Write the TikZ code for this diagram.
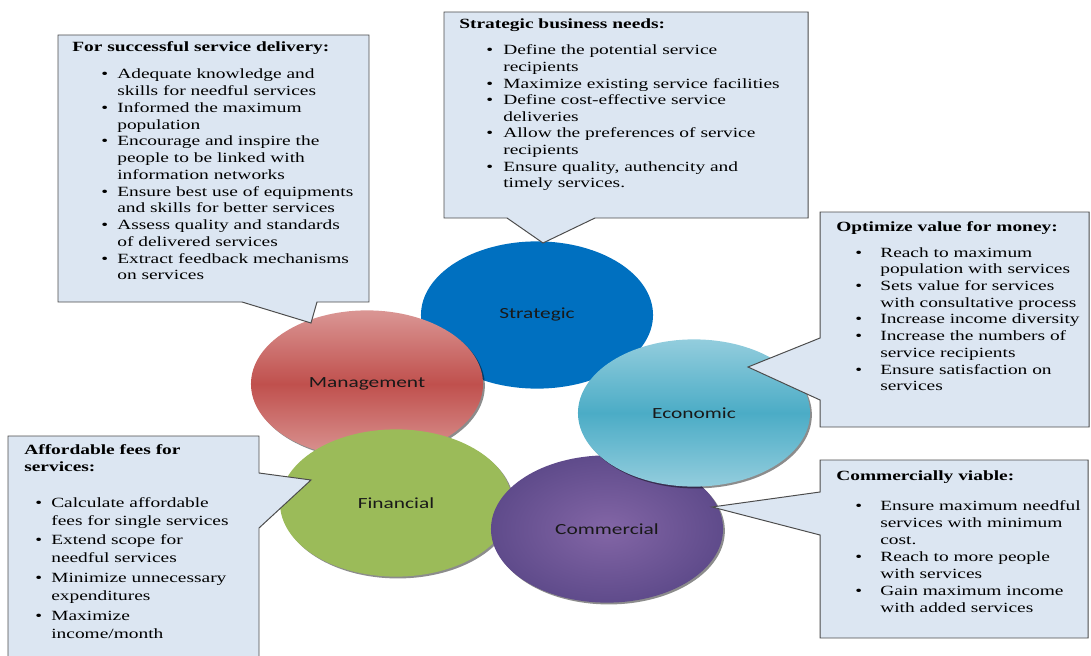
\documentclass[tikz,border=0pt]{standalone}
\usepackage{fontspec}
\setmainfont{Liberation Serif}[FakeStretch=1.38]
\newfontfamily\lblfont{Carlito}[FakeStretch=1.38]
\usepackage{xcolor}
\usetikzlibrary{shapes.geometric,shadows}
\definecolor{sblue}{HTML}{0070C0}
\definecolor{sred}{HTML}{C0504D}
\definecolor{sredlt}{HTML}{DA9694}
\definecolor{steal}{HTML}{4BACC6}
\definecolor{steallt}{HTML}{93CDDD}
\definecolor{sgreen}{HTML}{9BBB59}
\definecolor{spurple}{HTML}{5F4B8B}
\definecolor{spurplelt}{HTML}{8366A6}
\definecolor{sfill}{HTML}{DCE6F2}
\newcommand\bul{\textbullet}
\newcommand\blist[2]{\begin{tabular}[t]{@{}p{#1}@{}l@{}}#2\end{tabular}}
\tikzset{
  sring/.style={ellipse, minimum width=5.8cm, minimum height=3.68cm, inner sep=0pt,
                font=\lblfont\fontsize{11}{13}\selectfont, text=black!90},
  sshadow/.style={drop shadow={shadow xshift=1.3pt, shadow yshift=-1.3pt,
                  fill=black, opacity=0.45}},
  scall/.style={fill=sfill, draw=black!70, line width=0.7pt, line join=miter},
  shead/.style={anchor=base west, inner sep=0pt, font=\bfseries\fontsize{10}{12.1}\selectfont},
  slist/.style={anchor=base west, inner sep=0pt},
}

\begin{document}
\begin{tikzpicture}[x=0.025cm, y=-0.025cm]
  \useasboundingbox (0,0) rectangle (1091,656);
  \clip (0,0) rectangle (1091,656);

  % circles, back to front
  \node[sring, fill=sblue] (strat) at (537,315) {Strategic};
  \node[sring, sshadow, top color=sredlt, bottom color=sredlt, middle color=sred] (mgmt) at (367,384) {Management};
  \node[sring, sshadow, fill=sgreen] (fin) at (396,503) {Financial};
  \node[sring, sshadow, inner color=spurplelt, outer color=spurple] (comm) at (607,529) {Commercial};
  \node[sring, sshadow, top color=steallt, bottom color=steallt, middle color=steal] (econ) at (694,413) {Economic};

  % callouts
  \draw[scall] (58,35) -- (369,35) -- (369,302) -- (317,302) -- (311,323) -- (242,302) -- (58,302) -- cycle;
  \draw[scall] (444,12) -- (808,12) -- (808,218) -- (595,218) -- (543,243) -- (507,218) -- (444,218) -- cycle;
  \draw[scall] (820,212) -- (1089,212) -- (1089,427) -- (820,427) -- (820,400) -- (748,367) -- (820,338) -- cycle;
  \draw[scall] (8,436) -- (259,436) -- (259,473) -- (311,480) -- (259,528) -- (259,670) -- (8,670) -- cycle;
  \draw[scall] (820,460) -- (1088,460) -- (1088,638) -- (820,638) -- (820,535) -- (712,507) -- (820,492) -- cycle;

  % management
  \node[shead] (mgmt-h) at (72,52) {For successful service delivery:};
  \node[slist, font=\fontsize{10}{11.9}\selectfont] (mgmt-l) at (101,79) {\blist{11.4pt}{%
    \bul & Adequate knowledge and\\
         & skills for needful services\\
    \bul & Informed the maximum\\
         & population\\
    \bul & Encourage and inspire the\\
         & people to be linked with\\
         & information networks\\
    \bul & Ensure best use of equipments\\
         & and skills for better services\\
    \bul & Assess quality and standards\\
         & of delivered services\\
    \bul & Extract feedback mechanisms\\
         & on services}};

  % strategic
  \node[shead] (strat-h) at (459,29) {Strategic business needs:};
  \node[slist, font=\fontsize{10}{11.8}\selectfont] (strat-l) at (486,55) {\blist{12.1pt}{%
    \bul & Define the potential service\\
         & recipients\\
    \bul & Maximize existing service facilities\\
    \bul & Define cost-effective service\\
         & deliveries\\
    \bul & Allow the preferences of service\\
         & recipients\\
    \bul & Ensure quality, authencity and\\
         & timely services.}};

  % economic
  \node[shead] (econ-h) at (836,232) {Optimize value for money:};
  \node[slist, font=\fontsize{10}{11.9}\selectfont] (econ-l) at (855,257) {\blist{17.8pt}{%
    \bul & Reach to maximum\\
         & population with services\\
    \bul & Sets value for services\\
         & with consultative process\\
    \bul & Increase income diversity\\
    \bul & Increase the numbers of\\
         & service recipients\\
    \bul & Ensure satisfaction on\\
         & services}};

  % financial
  \node[shead] (fin-h) at (24,454) {\begin{tabular}[t]{@{}l@{}}Affordable fees for\\services:\end{tabular}};
  \node[slist, font=\fontsize{10}{12.8}\selectfont] (fin-l) at (35,507) {\blist{11.4pt}{%
    \bul & Calculate affordable\\
         & fees for single services\\[1.4pt]
    \bul & Extend scope for\\
         & needful services\\[1.4pt]
    \bul & Minimize unnecessary\\
         & expenditures\\[1.4pt]
    \bul & Maximize\\
         & income/month}};

  % commercial
  \node[shead] (comm-h) at (836,480) {Commercially viable:};
  \node[slist, font=\fontsize{10}{12.1}\selectfont] (comm-l) at (855,510) {\blist{17.8pt}{%
    \bul & Ensure maximum needful\\
         & services with minimum\\
         & cost.\\
    \bul & Reach to more people\\
         & with services\\
    \bul & Gain maximum income\\
         & with added services}};

\end{tikzpicture}
\end{document}
